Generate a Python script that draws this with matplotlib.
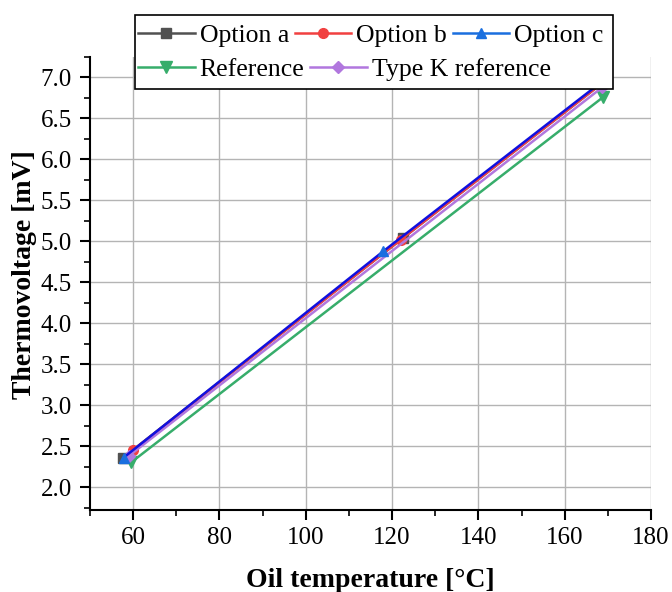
import matplotlib
matplotlib.use('Agg')
import matplotlib.pyplot as plt
from matplotlib.lines import Line2D
from matplotlib.patches import Rectangle
from matplotlib.ticker import MultipleLocator

# values
opt_a_x = [57.7, 122.5, 168.9]
opt_a_y = [2.36, 5.04, 6.94]
opt_b_x = [60.0, 122.0, 168.9]
opt_b_y = [2.45, 5.02, 6.94]
opt_c_x = [57.8, 118.0, 168.9]
opt_c_y = [2.36, 4.88, 6.96]
ref_x = [59.5, 168.9]
ref_y = [2.30, 6.76]
typek_x = [59.0, 168.7]
typek_y = [2.38, 6.88]

plt.rcParams['font.family'] = ['Liberation Serif', 'DejaVu Serif']

W, H = 672, 592
fig = plt.figure(figsize=(W/100, H/100), dpi=100)
ax = fig.add_axes([90/W, 82/H, 561/W, 453/H])

ax.plot(opt_a_x, opt_a_y, color='#515151', marker='s', ms=7, lw=1.8)
ax.plot(opt_b_x, opt_b_y, color='#F14040', marker='o', ms=7, lw=1.8)
ax.plot(ref_x, ref_y, color='#37AD6B', marker='v', ms=8, lw=1.8)
ax.plot(typek_x, typek_y, color='#B177DE', marker='D', ms=6, lw=1.8)
ax.plot(opt_c_x, opt_c_y, color='#1010e0', marker='^', ms=7, lw=1.8,
        mfc='#1A6FDF', mec='#1A6FDF')

ax.set_xlim(50, 180)
ax.set_ylim(1.72, 7.25)
ax.set_xticks(range(60, 181, 20))
ax.xaxis.set_minor_locator(MultipleLocator(10))
ax.yaxis.set_major_locator(MultipleLocator(0.5))
ax.yaxis.set_minor_locator(MultipleLocator(0.25))
ax.yaxis.set_major_formatter(plt.FormatStrFormatter('%.1f'))
ax.grid(True, which='major', color='#b4b4b4', lw=1)
ax.set_axisbelow(True)

ax.spines['top'].set_visible(False)
ax.spines['right'].set_visible(False)
for s in ['left', 'bottom']:
    ax.spines[s].set_linewidth(1.5)
ax.tick_params(which='major', direction='out', length=7, width=1.5, labelsize=18)
ax.tick_params(which='minor', direction='out', length=4, width=1.2)
ax.tick_params(axis='x', pad=5)
ax.tick_params(axis='y', pad=6)

ax.set_xlabel('Oil temperature [°C]', fontsize=20, fontweight='bold')
ax.set_ylabel('Thermovoltage [mV]', fontsize=20, fontweight='bold')
ax.xaxis.set_label_coords(0.5, -0.127)
ax.yaxis.set_label_coords(-0.094, 0.52)

# legend: two frameless rows inside one box
leg_kw = dict(loc='upper left', fontsize=18.5, frameon=False, handlelength=2.2,
              handletextpad=0.2, columnspacing=0.22, borderpad=0, borderaxespad=0)
row1 = [Line2D([], [], color='#515151', marker='s', ms=7, lw=1.8),
        Line2D([], [], color='#F14040', marker='o', ms=7, lw=1.8),
        Line2D([], [], color='#1A6FDF', marker='^', ms=7, lw=1.8)]
row2 = [Line2D([], [], color='#37AD6B', marker='v', ms=8, lw=1.8),
        Line2D([], [], color='#B177DE', marker='D', ms=6, lw=1.8)]
leg1 = fig.legend(row1, ['Option a', 'Option b', 'Option c'], ncol=3,
                  bbox_to_anchor=(138/W, 1 - 24/H), **leg_kw)
leg2 = fig.legend(row2, ['Reference', 'Type K reference'], ncol=2,
                  bbox_to_anchor=(138/W, 1 - 58/H), **leg_kw)
box = Rectangle((135/W, 1 - 89/H), 478/W, 74/H, transform=fig.transFigure,
                facecolor='white', edgecolor='black', lw=1.2, zorder=4)
fig.add_artist(box)

fig.savefig('out.png', dpi=100)
